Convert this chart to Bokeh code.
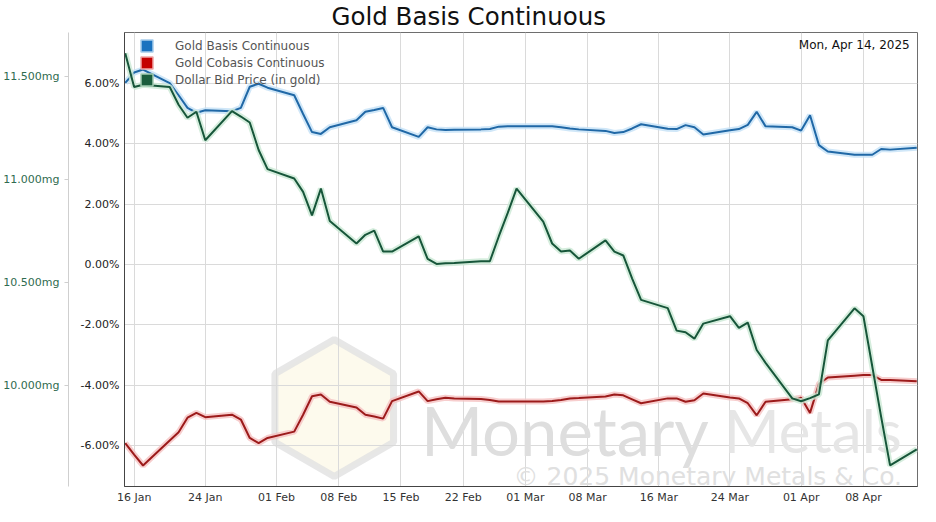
import datetime as dt
from bokeh.plotting import figure
from bokeh.models import (Range1d, LinearAxis, FixedTicker, PrintfTickFormatter,
                          DatetimeTickFormatter, Legend, LegendItem, Label, ColumnDataSource)
from bokeh.embed import file_html
from bokeh.resources import INLINE

# ---------------- data ----------------
dates = [
    "2025-01-15", "2025-01-16", "2025-01-17", "2025-01-20", "2025-01-21", "2025-01-22", "2025-01-23",
    "2025-01-24", "2025-01-27", "2025-01-28", "2025-01-29", "2025-01-30", "2025-01-31",
    "2025-02-03", "2025-02-04", "2025-02-05", "2025-02-06", "2025-02-07", "2025-02-10", "2025-02-11",
    "2025-02-12", "2025-02-13", "2025-02-14", "2025-02-17", "2025-02-18", "2025-02-19", "2025-02-20",
    "2025-02-21", "2025-02-24", "2025-02-25", "2025-02-26", "2025-02-27", "2025-02-28",
    "2025-03-03", "2025-03-04", "2025-03-05", "2025-03-06", "2025-03-07", "2025-03-10", "2025-03-11",
    "2025-03-12", "2025-03-13", "2025-03-14", "2025-03-17", "2025-03-18", "2025-03-19", "2025-03-20",
    "2025-03-21", "2025-03-24", "2025-03-25", "2025-03-26", "2025-03-27", "2025-03-28", "2025-03-31",
    "2025-04-01", "2025-04-02", "2025-04-03", "2025-04-04", "2025-04-07", "2025-04-08", "2025-04-09",
    "2025-04-10", "2025-04-11", "2025-04-14",
]

gold_basis = [
    6.01, 6.35, 6.45, 6.00, 5.60, 5.18, 5.02, 5.10, 5.07, 5.18, 5.88, 5.98, 5.85,
    5.60, 4.98, 4.38, 4.32, 4.54, 4.77, 5.05, 5.11, 5.18, 4.54, 4.22, 4.54, 4.47, 4.45,
    4.46, 4.47, 4.48, 4.56, 4.57, 4.57,
    4.57, 4.57, 4.54, 4.50, 4.47, 4.42, 4.35, 4.38, 4.50, 4.64, 4.49, 4.48, 4.61, 4.54,
    4.30, 4.44, 4.48, 4.62, 5.05, 4.57, 4.54,
    4.43, 4.94, 3.95, 3.74, 3.63, 3.63, 3.63, 3.82, 3.80, 3.86,
]

gold_cobasis = [
    -5.91, -6.29, -6.65, -5.82, -5.55, -5.07, -4.91, -5.05, -4.97, -5.13, -5.74, -5.91, -5.74,
    -5.53, -4.97, -4.36, -4.30, -4.54, -4.73, -4.97, -5.03, -5.10, -4.52, -4.20, -4.52, -4.46, -4.41,
    -4.43, -4.45, -4.48, -4.53, -4.53, -4.53,
    -4.53, -4.52, -4.48, -4.43, -4.42, -4.37, -4.30, -4.33, -4.46, -4.59, -4.43, -4.43, -4.54, -4.49,
    -4.27, -4.40, -4.43, -4.59, -4.99, -4.54, -4.46,
    -4.41, -4.91, -3.95, -3.74, -3.68, -3.66, -3.66, -3.82, -3.82, -3.86,
]

dollar_bid_mg = [
    11.611, 11.447, 11.458, 11.447, 11.361, 11.298, 11.327, 11.189, 11.330, 11.304, 11.275, 11.142, 11.049,
    11.004, 10.939, 10.825, 10.955, 10.798, 10.689, 10.731, 10.751, 10.650, 10.650, 10.723, 10.614, 10.590,
    10.593, 10.595, 10.603, 10.603, 10.723, 10.836, 10.955,
    10.795, 10.689, 10.650, 10.655, 10.615, 10.704, 10.650, 10.631, 10.519, 10.416, 10.376, 10.267, 10.259,
    10.228, 10.301, 10.337, 10.280, 10.306, 10.173, 10.111, 9.939,
    9.925, 9.940, 9.958, 10.220, 10.375, 10.337, 10.093, 9.848, 9.614, 9.692,
]

x_tick_dates = ["2025-01-16", "2025-01-24", "2025-02-01", "2025-02-08", "2025-02-15", "2025-02-22",
                "2025-03-01", "2025-03-08", "2025-03-16", "2025-03-24", "2025-04-01", "2025-04-08"]
pct_ticks = [-6, -4, -2, 0, 2, 4, 6]
mg_ticks = [10.0, 10.5, 11.0, 11.5]

series_names = ["Gold Basis Continuous", "Gold Cobasis Continuous", "Dollar Bid Price (in gold)"]
as_of_text = "Mon, Apr 14, 2025"
title_text = "Gold Basis Continuous"
watermark_main = ["Monetary", "Metals"]
watermark_copy = "\u00a9 2025 Monetary Metals & Co."

# ---------------- helpers ----------------
def to_dt(s):
    return dt.datetime.strptime(s, "%Y-%m-%d")

EPOCH = dt.datetime(1970, 1, 1)
def to_ms(d):
    return (d - EPOCH).total_seconds() * 1000.0

xs = [to_dt(d) for d in dates]
src = ColumnDataSource(dict(x=xs, basis=gold_basis, cobasis=gold_cobasis, bid=dollar_bid_mg))

x_start = to_dt("2025-01-15") - dt.timedelta(hours=2)
x_end = to_dt("2025-04-14") + dt.timedelta(hours=2)
y_lo, y_hi = -7.345, 7.675

FONT = "DejaVu Sans"

p = figure(width=920, height=506, x_axis_type="datetime", output_backend="svg",
           toolbar_location=None, x_range=Range1d(x_start, x_end),
           y_range=Range1d(y_lo, y_hi),
           min_border_left=123, min_border_right=3, min_border_top=32, min_border_bottom=0)
p.extra_y_ranges = {"mg": Range1d(9.512, 11.711)}

p.background_fill_color = "white"
p.border_fill_color = "white"
p.outline_line_color = "#6e6e6e"
p.outline_line_width = 1

# title
p.title.text = title_text
p.title.text_font = FONT
p.title.text_font_size = "24.5px"
p.title.text_font_style = "normal"
p.title.text_color = "#111111"
p.title.align = "left"
p.title.offset = 207
p.title.standoff = 0
p.title.vertical_align = "top"

# x axis
xt = FixedTicker(ticks=[to_ms(to_dt(d)) for d in x_tick_dates])
xa = p.xaxis[0]
xa.ticker = xt
fmt = "%d %b"
xa.formatter = DatetimeTickFormatter(days=fmt, months=fmt, hours=fmt, minutes=fmt, years=fmt)
xa.major_label_text_font = FONT
xa.major_label_text_font_size = "11px"
xa.major_label_text_color = "#333333"
xa.major_tick_line_color = None
xa.minor_tick_line_color = None
xa.major_tick_out = 0
xa.major_label_standoff = 4
xa.axis_line_color = "#444444"

# percent axis
ya = p.yaxis[0]
ya.ticker = FixedTicker(ticks=pct_ticks)
ya.formatter = PrintfTickFormatter(format="%.2f%%")
ya.major_label_text_font = FONT
ya.major_label_text_font_size = "11px"
ya.major_label_text_color = "#222222"
ya.major_tick_line_color = None
ya.minor_tick_line_color = None
ya.major_tick_out = 0
ya.major_label_standoff = 5
ya.axis_line_color = "#444444"
ya.axis_label = " "
ya.axis_label_text_font_size = "5px"
ya.axis_label_standoff = 0

# mg axis (far left)
mga = LinearAxis(y_range_name="mg", ticker=FixedTicker(ticks=mg_ticks),
                 formatter=PrintfTickFormatter(format="%.3fmg"))
mga.major_label_text_font = FONT
mga.major_label_text_font_size = "11px"
mga.major_label_text_color = "#2f6b4f"
mga.axis_line_color = "#cfcfcf"
mga.major_tick_line_color = "#cfcfcf"
mga.major_tick_out = 4
mga.major_tick_in = 0
mga.minor_tick_line_color = None
mga.major_label_standoff = 5
p.add_layout(mga, "left")

# grid
p.xgrid.grid_line_color = "#dadada"
p.ygrid.grid_line_color = "#dadada"
p.ygrid.ticker = FixedTicker(ticks=pct_ticks)

# watermark (behind data)
p.scatter(x=[to_dt("2025-02-07") + dt.timedelta(hours=12)], y=[-4.75], marker="hex", size=137,
          angle=1.5708, fill_color="#fbf6df", fill_alpha=0.55, line_color="#e3e3e3",
          line_width=7, line_alpha=0.85, level="underlay")
wm1 = Label(x=to_ms(to_dt("2025-02-17") + dt.timedelta(hours=6)), y=-5.49, text=watermark_main[0],
            text_font="Lato", text_font_size="67px", text_color="#dedede", text_baseline="alphabetic",
            level="underlay")
wm2 = Label(x=to_ms(to_dt("2025-03-23") + dt.timedelta(hours=8)), y=-5.49, text=watermark_main[1],
            text_font="Lato", text_font_size="60px", text_color="#e6e6e6", text_baseline="alphabetic",
            level="underlay")
wm3 = Label(x=to_ms(to_dt("2025-02-27") + dt.timedelta(hours=16)), y=-7.0, text=watermark_copy,
            text_font=FONT, text_font_size="25px", text_color="#e0e0e0", text_baseline="alphabetic",
            level="underlay")
for lab in (wm1, wm2, wm3):
    p.add_layout(lab)

# series: glow + line
p.line("x", "basis", source=src, line_color="#c4e1f6", line_width=6, line_alpha=0.8)
p.line("x", "basis", source=src, line_color="#2068a6", line_width=2)
p.line("x", "cobasis", source=src, line_color="#f5c2c2", line_width=6, line_alpha=0.8)
p.line("x", "cobasis", source=src, line_color="#9c1b1b", line_width=2)
p.line("x", "bid", source=src, y_range_name="mg", line_color="#cbe8d5", line_width=6, line_alpha=0.8)
p.line("x", "bid", source=src, y_range_name="mg", line_color="#17563a", line_width=2)

# legend swatches (one off-screen quad each, so the legend can draw its swatch)
legend_fill = ["#1a72bf", "#c40000", "#1b5e3e"]
legend_edge = ["#a8cdec", "#efa5a5", "#a3ccb2"]
items = []
for name, fc, lc in zip(series_names, legend_fill, legend_edge):
    r = p.quad(left=[x_start], right=[x_start + dt.timedelta(days=1)], top=[101], bottom=[100],
               fill_color=fc, line_color=lc, line_width=1.5)
    items.append(LegendItem(label=name, renderers=[r]))
legend = Legend(items=items, location=(10, 394), orientation="vertical",
                glyph_width=15, glyph_height=15, label_height=14, spacing=2,
                label_standoff=21, padding=5, margin=0,
                label_text_font=FONT, label_text_font_size="12px", label_text_color="#555555",
                background_fill_alpha=0, border_line_alpha=0)
p.add_layout(legend)

# as-of date
p.add_layout(Label(x=to_ms(to_dt("2025-04-14")), y=7.26, x_offset=-7, text=as_of_text,
                   text_align="right", text_baseline="middle", text_font=FONT,
                   text_font_size="12px", text_color="#111111"))

open("out.html", "w").write(file_html(p, INLINE))
